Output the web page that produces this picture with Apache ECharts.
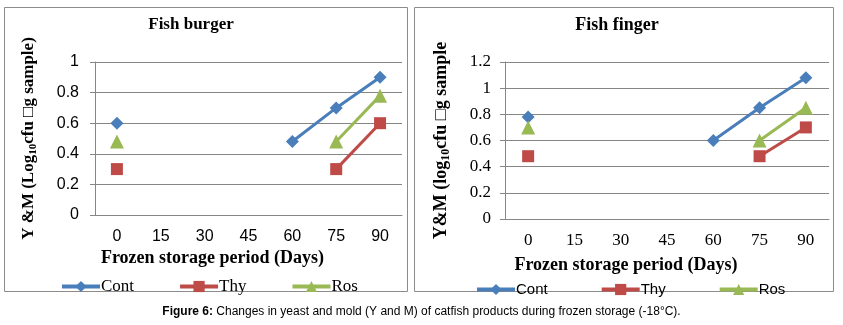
<!DOCTYPE html>
<html><head><meta charset="utf-8">
<script src="https://cdn.jsdelivr.net/npm/echarts@6/dist/echarts.min.js"></script>
<style>html,body{margin:0;padding:0;background:#fff}#c{width:843px;height:325px}</style>
</head><body><div id="c"></div>
<script>
const days = ['0','15','30','45','60','75','90'];
const burgerCont = [0.6, null, null, null, 0.48, 0.7, 0.9];
const burgerThy  = [0.3, null, null, null, null, 0.3, 0.6];
const burgerRos  = [0.48, null, null, null, null, 0.48, 0.78];
const fingerCont = [0.78, null, null, null, 0.6, 0.85, 1.08];
const fingerThy  = [0.48, null, null, null, null, 0.48, 0.7];
const fingerRos  = [0.7, null, null, null, null, 0.6, 0.85];
const seriesNames = ['Cont','Thy','Ros'];
const colors = ['#4a7ebb','#be4b48','#98b954'];
const symbols = ['diamond','rect','triangle'];
const symSizes = [13, 12, 14];

const chart = echarts.init(document.getElementById('c'));
const serif = '"Liberation Serif","Times New Roman",serif';
const sans = '"Liberation Sans",Arial,sans-serif';
const gridColor = '#868686';

function mkSeries(name, idx, data, gi){
  return {name, type:'line', xAxisIndex:gi, yAxisIndex:gi, data, connectNulls:false,
    symbol:symbols[idx], symbolSize:symSizes[idx], showSymbol:true,
    itemStyle:{color:colors[idx]}, lineStyle:{color:colors[idx], width:3}};
}
function yRich(fs){
  return {
    b:{fontFamily:serif, fontWeight:'bold', fontSize:fs, color:'#000'},
    s:{fontFamily:serif, fontWeight:'bold', fontSize:Math.round(fs*0.65), color:'#000', verticalAlign:'bottom', padding:[9,0,0,0]}
  };
}
chart.setOption({
  animation:false,
  graphic:[
    {type:'rect', shape:{x:4.5,y:7.5,width:403,height:284}, style:{fill:'none', stroke:'#8c8c8c', lineWidth:1}},
    {type:'rect', shape:{x:414.5,y:7.5,width:419,height:284}, style:{fill:'none', stroke:'#8c8c8c', lineWidth:1}},
    {type:'text', left:'center', top:306, style:{rich:{b:{fontFamily:sans,fontWeight:'bold',fontSize:12,fill:'#000'}, n:{fontFamily:sans,fontSize:12,fill:'#000'}}, text:'{b|Figure 6:}{n| Changes in yeast and mold (Y and M) of catfish products during frozen storage (-18°C).}'}}
  ],
  title:[
    {text:'Fish burger', left:186, top:11, textAlign:'center', textStyle:{fontFamily:serif, fontWeight:'bold', fontSize:17, color:'#000'}},
    {text:'Fish finger', left:612, top:11, textAlign:'center', textStyle:{fontFamily:serif, fontWeight:'bold', fontSize:18, color:'#000'}}
  ],
  legend:[
    {data:seriesNames, left:55, top:273, itemWidth:38, itemHeight:14, itemGap:44, lineStyle:{width:4},
     textStyle:{fontFamily:serif, fontSize:17, color:'#000', padding:[0,0,0,-4]}},
    {data:seriesNames, left:470, top:277, itemWidth:38, itemHeight:14, itemGap:52, lineStyle:{width:4},
     textStyle:{fontFamily:sans, fontSize:15, color:'#000', padding:[0,0,0,-4]}}
  ],
  grid:[
    {left:95, top:62, width:307, height:153},
    {left:505, top:62, width:324, height:157}
  ],
  xAxis:[
    {type:'category', gridIndex:0, data:days, boundaryGap:true,
     axisLine:{lineStyle:{color:gridColor}}, axisTick:{show:false},
     axisLabel:{fontFamily:sans, fontSize:16, color:'#000', margin:14},
     name:'Frozen storage period (Days)', nameLocation:'middle', nameGap:34,
     nameTextStyle:{fontFamily:serif, fontWeight:'bold', fontSize:18, color:'#000', padding:[0,72,0,0]}},
    {type:'category', gridIndex:1, data:days, boundaryGap:true,
     axisLine:{lineStyle:{color:gridColor}}, axisTick:{show:false},
     axisLabel:{fontFamily:serif, fontSize:17, color:'#000', margin:13},
     name:'Frozen storage period (Days)', nameLocation:'middle', nameGap:37,
     nameTextStyle:{fontFamily:serif, fontWeight:'bold', fontSize:18, color:'#000', padding:[0,82,0,0]}}
  ],
  yAxis:[
    {type:'value', gridIndex:0, min:0, max:1, interval:0.2,
     axisLine:{show:true, lineStyle:{color:gridColor}}, axisTick:{show:true, length:5, lineStyle:{color:gridColor}},
     splitLine:{lineStyle:{color:gridColor}},
     axisLabel:{fontFamily:sans, fontSize:16, color:'#000', margin:16},
     name:'{b|Y &M (Log}{s|10}{b|cfu □g sample)}', nameLocation:'middle', nameGap:56, nameRotate:90,
     nameTextStyle:{rich:yRich(17)}},
    {type:'value', gridIndex:1, min:0, max:1.2, interval:0.2,
     axisLine:{show:true, lineStyle:{color:gridColor}}, axisTick:{show:true, length:5, lineStyle:{color:gridColor}},
     splitLine:{lineStyle:{color:gridColor}},
     axisLabel:{fontFamily:serif, fontSize:17, color:'#000', margin:14},
     name:'{b|Y&M (log}{s|10}{b|cfu □g sample}', nameLocation:'middle', nameGap:53, nameRotate:90,
     nameTextStyle:{rich:yRich(18)}}
  ],
  series:[
    mkSeries('Cont',0,burgerCont,0), mkSeries('Thy',1,burgerThy,0), mkSeries('Ros',2,burgerRos,0),
    mkSeries('Cont',0,fingerCont,1), mkSeries('Thy',1,fingerThy,1), mkSeries('Ros',2,fingerRos,1)
  ]
});
</script></body></html>
